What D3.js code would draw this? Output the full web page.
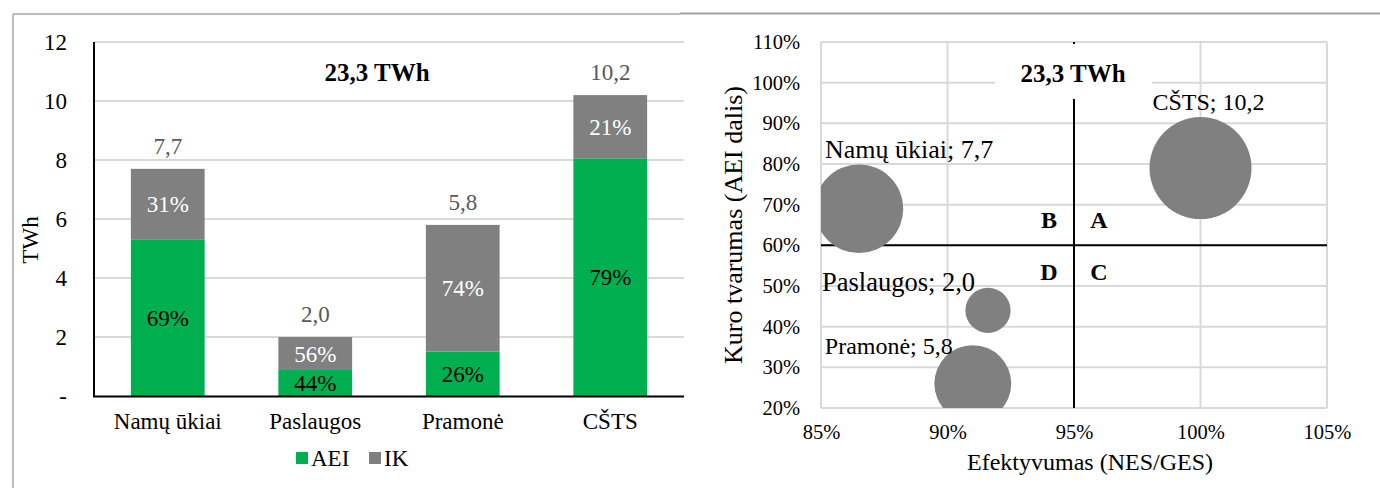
<!DOCTYPE html>
<html><head><meta charset="utf-8">
<script src="https://cdn.jsdelivr.net/npm/d3@7"></script>
<style>
html,body{margin:0;padding:0;background:#fff;}
svg, svg text{font-family:"Liberation Serif","DejaVu Serif","Times New Roman",Times,serif !important;}
</style></head>
<body>
<svg id="c" width="1380" height="488"></svg>
<script>
// ---- Left chart data ----
const categories = ["Namų ūkiai","Paslaugos","Pramonė","CŠTS"];
const totals = [7.7, 2.0, 5.8, 10.2];
const aeiShare = [0.69, 0.44, 0.26, 0.79];
const ikShare = [0.31, 0.56, 0.74, 0.21];
const totalLabels = ["7,7","2,0","5,8","10,2"];
const leftTicks = [0,2,4,6,8,10,12];
const seriesNames = ["AEI","IK"];
const seriesColors = ["#00B050","#808080"];
const centerLabel = "23,3 TWh";

// ---- Right chart data ----
const bubbleNames = ["Namų ūkiai","Paslaugos","Pramonė","CŠTS"];
const bubbleEff = [0.865, 0.916, 0.910, 1.000];
const bubbleAei = [0.69, 0.44, 0.26, 0.79];
const bubbleSize = [7.7, 2.0, 5.8, 10.2];
const bubbleLabels = ["Namų ūkiai; 7,7","Paslaugos; 2,0","Pramonė; 5,8","CŠTS; 10,2"];
const xTicksR = [0.85,0.90,0.95,1.00,1.05];
const yTicksR = [0.2,0.3,0.4,0.5,0.6,0.7,0.8,0.9,1.0,1.1];
const quadrants = ["A","B","C","D"];

const FONT = '"Liberation Serif","DejaVu Serif","Times New Roman",Times,serif';
const svg = d3.select("#c").style("font-family", FONT);

// frames
svg.append("line").attr("x1",13).attr("x2",680).attr("y1",14).attr("y2",14).attr("stroke","#a6a6a6").attr("stroke-width",1.5);
svg.append("line").attr("x1",13).attr("x2",13).attr("y1",14).attr("y2",488).attr("stroke","#a6a6a6").attr("stroke-width",1.5);
svg.append("line").attr("x1",680).attr("x2",1380).attr("y1",13.5).attr("y2",13.5).attr("stroke","#a0a0a0").attr("stroke-width",2);

// ================= LEFT =================
const L = svg.append("g");
const x = d3.scaleBand().domain(categories).range([94,684]).paddingInner(0.5).paddingOuter(0.25);
const y = d3.scaleLinear().domain([0,12]).range([396,42]);

L.append("g").selectAll("line").data(leftTicks.filter(t=>t>0)).join("line")
  .attr("x1",94).attr("x2",684).attr("y1",d=>y(d)).attr("y2",d=>y(d))
  .attr("stroke","#d9d9d9").attr("stroke-width",2);

const yAxisL = d3.axisLeft(y).tickValues(leftTicks).tickSize(0).tickPadding(27)
  .tickFormat(d=>d===0?"-":d);
L.append("g").attr("transform","translate(94,0)").call(yAxisL)
  .call(g=>g.select(".domain").remove())
  .attr("font-family", FONT)
  .selectAll("text").attr("font-size",23).attr("fill","#000");

const rows = categories.map((c,i)=>({cat:c, AEI: totals[i]*aeiShare[i], IK: totals[i]*ikShare[i], i}));
const stack = d3.stack().keys(seriesNames)(rows);
L.append("g").selectAll("g").data(stack).join("g")
  .attr("fill",(d,k)=>seriesColors[k])
  .selectAll("rect").data(d=>d).join("rect")
  .attr("x",d=>x(d.data.cat)).attr("width",x.bandwidth())
  .attr("y",d=>y(d[1])).attr("height",d=>y(d[0])-y(d[1]));

// segment labels
stack.forEach((s,k)=>{
  L.append("g").selectAll("text").data(s).join("text")
   .attr("x",d=>x(d.data.cat)+x.bandwidth()/2)
   .attr("y",d=>y((d[0]+d[1])/2))
   .attr("dy","0.35em").attr("text-anchor","middle").attr("font-size",23)
   .attr("fill",k===0?"#000":"#fff")
   .text(d=>Math.round((k===0?aeiShare:ikShare)[d.data.i]*100)+"%");
});
// totals
L.append("g").selectAll("text").data(rows).join("text")
  .attr("x",d=>x(d.cat)+x.bandwidth()/2).attr("y",d=>y(totals[d.i])-23)
  .attr("dy","0.35em").attr("text-anchor","middle").attr("font-size",23).attr("fill","#595959")
  .text(d=>totalLabels[d.i]);

// axes lines
L.append("line").attr("x1",94).attr("x2",94).attr("y1",42).attr("y2",397).attr("stroke","#000").attr("stroke-width",2);
L.append("line").attr("x1",93).attr("x2",684).attr("y1",396.5).attr("y2",396.5).attr("stroke","#000").attr("stroke-width",2);

// category labels
const xAxisL = d3.axisBottom(x).tickSize(0).tickPadding(17);
L.append("g").attr("transform","translate(0,396)").call(xAxisL)
  .call(g=>g.select(".domain").remove())
  .attr("font-family", FONT)
  .selectAll("text").attr("font-size",23).attr("fill","#000");

L.append("text").attr("x",377).attr("y",72).attr("dy","0.35em").attr("text-anchor","middle")
  .attr("font-size",25).attr("font-weight","bold").text(centerLabel);

L.append("text").attr("transform","translate(38,240) rotate(-90)").attr("text-anchor","middle")
  .attr("font-size",23).text("TWh");

// legend
const leg = L.append("g").attr("transform","translate(296,458)");
const legX = [0,73];
seriesNames.forEach((n,k)=>{
  leg.append("rect").attr("x",legX[k]).attr("y",-6).attr("width",12).attr("height",12).attr("fill",seriesColors[k]);
  leg.append("text").attr("x",legX[k]+15).attr("y",0).attr("dy","0.35em").attr("font-size",23).text(n);
});

// ================= RIGHT =================
const R = svg.append("g");
const xr = d3.scaleLinear().domain([0.85,1.05]).range([821,1327]);
const yr = d3.scaleLinear().domain([0.2,1.1]).range([408,42]);
const rr = d3.scaleSqrt().domain([0,10.2]).range([0,51]);

R.append("g").selectAll("line").data(yTicksR).join("line")
  .attr("x1",821).attr("x2",1327).attr("y1",d=>yr(d)).attr("y2",d=>yr(d))
  .attr("stroke","#d9d9d9").attr("stroke-width",2);
R.append("g").selectAll("line").data(xTicksR).join("line")
  .attr("y1",42).attr("y2",408).attr("x1",d=>xr(d)).attr("x2",d=>xr(d))
  .attr("stroke","#d9d9d9").attr("stroke-width",2);

R.append("g").attr("transform","translate(821,0)")
  .call(d3.axisLeft(yr).tickValues(yTicksR).tickSize(0).tickPadding(21).tickFormat(d=>Math.round(d*100)+"%"))
  .call(g=>g.select(".domain").remove())
  .attr("font-family", FONT)
  .selectAll("text").attr("font-size",20.5).attr("fill","#000");
R.append("g").attr("transform","translate(0,408)")
  .call(d3.axisBottom(xr).tickValues(xTicksR).tickSize(0).tickPadding(16).tickFormat(d=>Math.round(d*100)+"%"))
  .call(g=>g.select(".domain").remove())
  .attr("font-family", FONT)
  .selectAll("text").attr("font-size",20.5).attr("fill","#000");

// quadrant lines
R.append("line").attr("x1",821).attr("x2",1327).attr("y1",yr(0.6)).attr("y2",yr(0.6)).attr("stroke","#000").attr("stroke-width",2);
R.append("line").attr("x1",xr(0.95)).attr("x2",xr(0.95)).attr("y1",42).attr("y2",408).attr("stroke","#000").attr("stroke-width",2);

// bubbles
R.append("clipPath").attr("id","pc").append("rect").attr("x",821).attr("y",42).attr("width",506).attr("height",366);
R.append("g").attr("clip-path","url(#pc)").selectAll("circle").data(bubbleSize).join("circle")
  .attr("cx",(d,i)=>xr(bubbleEff[i])).attr("cy",(d,i)=>yr(bubbleAei[i])).attr("r",d=>rr(d))
  .attr("fill","#808080");

// bubble labels (manually placed relative to bubble centres, as in reference)
const lblDx = [-34,-166,-148,-48];
const lblDy = [-51,-19,-30,-58];
const lblFs = [26,26.5,24,24];
R.append("g").selectAll("text").data(bubbleLabels).join("text")
  .attr("x",(d,i)=>xr(bubbleEff[i])+lblDx[i])
  .attr("y",(d,i)=>yr(bubbleAei[i])+lblDy[i])
  .attr("font-size",(d,i)=>lblFs[i]).text(d=>d);

// center label with white box
R.append("rect").attr("x",995).attr("y",44).attr("width",157).attr("height",55).attr("fill","#fff");
R.append("text").attr("x",1073).attr("y",73).attr("dy","0.35em").attr("text-anchor","middle")
  .attr("font-size",25).attr("font-weight","bold").text(centerLabel);

// quadrant letters
const qx = {A:1, B:-1, C:1, D:-1}, qy = {A:-1, B:-1, C:1, D:1};
R.append("g").selectAll("text").data(quadrants).join("text")
  .attr("x",d=>xr(0.95)+qx[d]*25).attr("y",d=>yr(0.6)+qy[d]*26).attr("dy","0.35em")
  .attr("text-anchor","middle").attr("font-size",24).attr("font-weight","bold").text(d=>d);

// axis titles
R.append("text").attr("transform","translate(742,225) rotate(-90)").attr("text-anchor","middle")
  .attr("font-size",26).text("Kuro tvarumas (AEI dalis)");
R.append("text").attr("x",1090).attr("y",462).attr("dy","0.35em").attr("text-anchor","middle")
  .attr("font-size",24).text("Efektyvumas (NES/GES)");
</script>
</body></html>
